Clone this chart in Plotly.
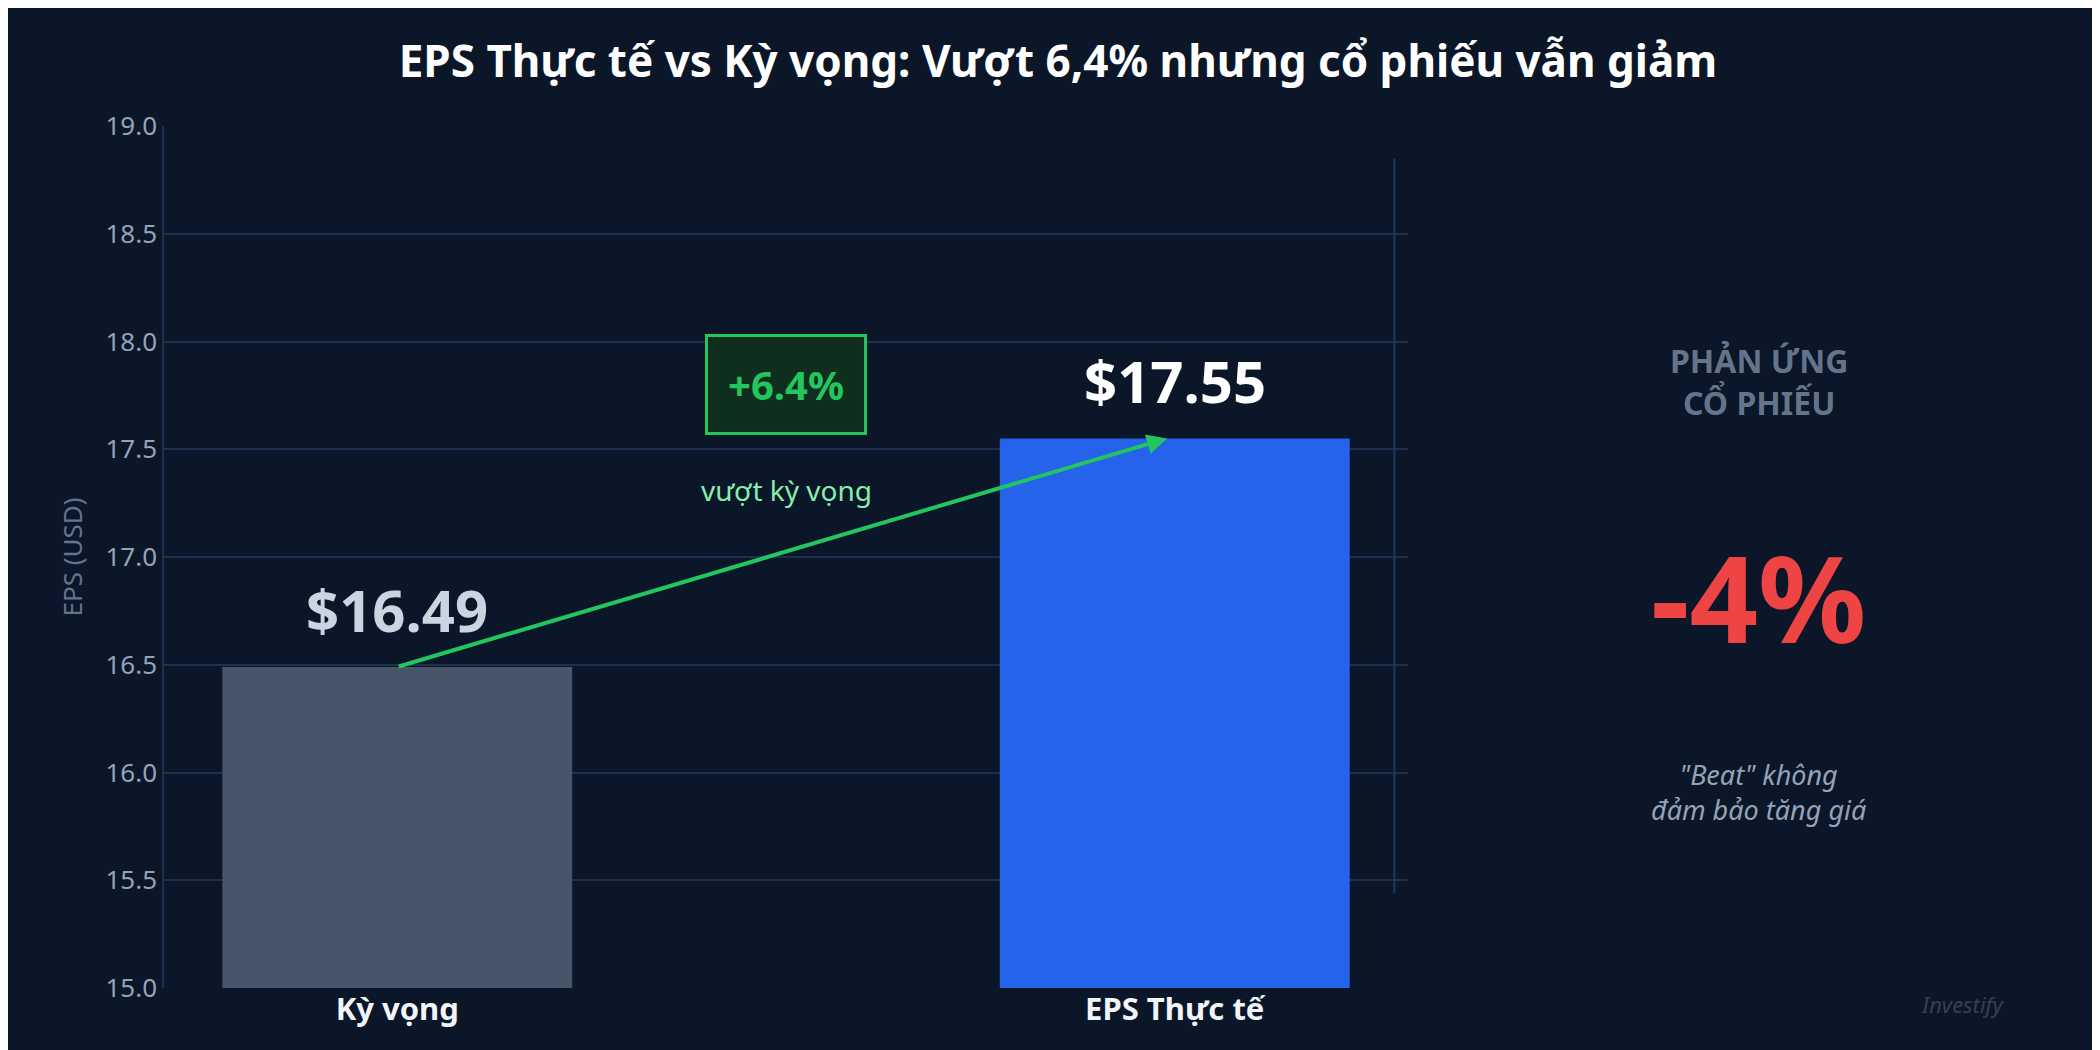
import plotly.graph_objects as go

# data
categories = ["Kỳ vọng", "EPS Thực tế"]
eps_values = [16.49, 17.55]
bar_colors = ["#475569", "#2563eb"]
label_colors = ["#cbd5e1", "#ffffff"]
beat_pct = "+6.4%"
stock_reaction = "-4%"

bg = "#0b1628"
xs = [0, 1]

fig = go.Figure()
fig.add_trace(go.Bar(x=xs, y=eps_values, width=0.45, marker_color=bar_colors,
                     marker_line_width=0, hoverinfo="skip"))

# value labels over the bars
for x, v, c in zip(xs, eps_values, label_colors):
    fig.add_annotation(x=x, y=v, text=f"<b>${v:.2f}</b>", showarrow=False,
                       yanchor="bottom", yshift=16, font=dict(size=58, color=c))

# arrow from expectation to actual
fig.add_annotation(x=0.99, y=eps_values[1], ax=xs[0], ay=eps_values[0],
                   xref="x", yref="y", axref="x", ayref="y", text="",
                   showarrow=True, arrowhead=2, arrowsize=1, arrowwidth=4,
                   arrowcolor="#22c55e")

# beat box
fig.add_annotation(x=0.5, y=17.80, text=f"<b>{beat_pct}</b>", showarrow=False,
                   font=dict(size=40, color="#22c55e"), bgcolor="#0f2e1e",
                   bordercolor="#22c55e", borderwidth=3, borderpad=20)
fig.add_annotation(x=0.5, y=17.31, text="vượt kỳ vọng", showarrow=False,
                   font=dict(size=28, color="#86efac"))

# right panel
fig.add_annotation(xref="paper", yref="paper", x=1.282, y=0.755, xanchor="center",
                   text="<b>PHẢN ỨNG<br>CỔ PHIẾU</b>", showarrow=False,
                   font=dict(size=32, color="#64748b"), align="center")
fig.add_annotation(xref="paper", yref="paper", x=1.282, y=0.454, xanchor="center",
                   text=f"<b>{stock_reaction}</b>", showarrow=False,
                   font=dict(size=120, color="#ef4444"))
fig.add_annotation(xref="paper", yref="paper", x=1.282, y=0.183, xanchor="center",
                   text="<i>\"Beat\" không<br>đảm bảo tăng giá</i>", showarrow=False,
                   font=dict(size=27, color="#94a3b8"), align="center")
fig.add_annotation(xref="paper", yref="paper", x=1.446, y=-0.038, xanchor="center",
                   text="<i>Investify</i>", showarrow=False,
                   font=dict(size=22, color="#334155"))

# separator line
fig.add_shape(type="line", xref="paper", yref="y", x0=0.989, x1=0.989,
              y0=15.44, y1=18.85, line=dict(color="#1e3a5f", width=2))

fig.update_layout(
    width=2100, height=1050,
    paper_bgcolor=bg, plot_bgcolor=bg,
    font=dict(family="Noto Sans", color="#94a3b8"),
    title=dict(text="<b>EPS Thực tế vs Kỳ vọng: Vượt 6,4% nhưng cổ phiếu vẫn giảm</b>",
               x=0.5, xanchor="center", y=0.949, yanchor="middle",
               font=dict(size=44, color="#ffffff")),
    margin=dict(l=156, r=700, t=118, b=70),
    showlegend=False,
    xaxis=dict(range=[-0.3, 1.3], tickvals=xs,
               ticktext=[f"<b>{c}</b>" for c in categories],
               tickfont=dict(size=31, color="#f1f5f9"), showgrid=False,
               zeroline=False, showline=False),
    yaxis=dict(range=[15, 19], dtick=0.5, tickformat=".1f",
               tickfont=dict(size=26, color="#94a3b8"),
               title=dict(text="EPS (USD)", font=dict(size=26, color="#64748b")),
               gridcolor="#1e3050", gridwidth=1.5, zeroline=False,
               showline=True, linecolor="#1e3050", linewidth=1.5),
)

fig.write_html("out.html")
